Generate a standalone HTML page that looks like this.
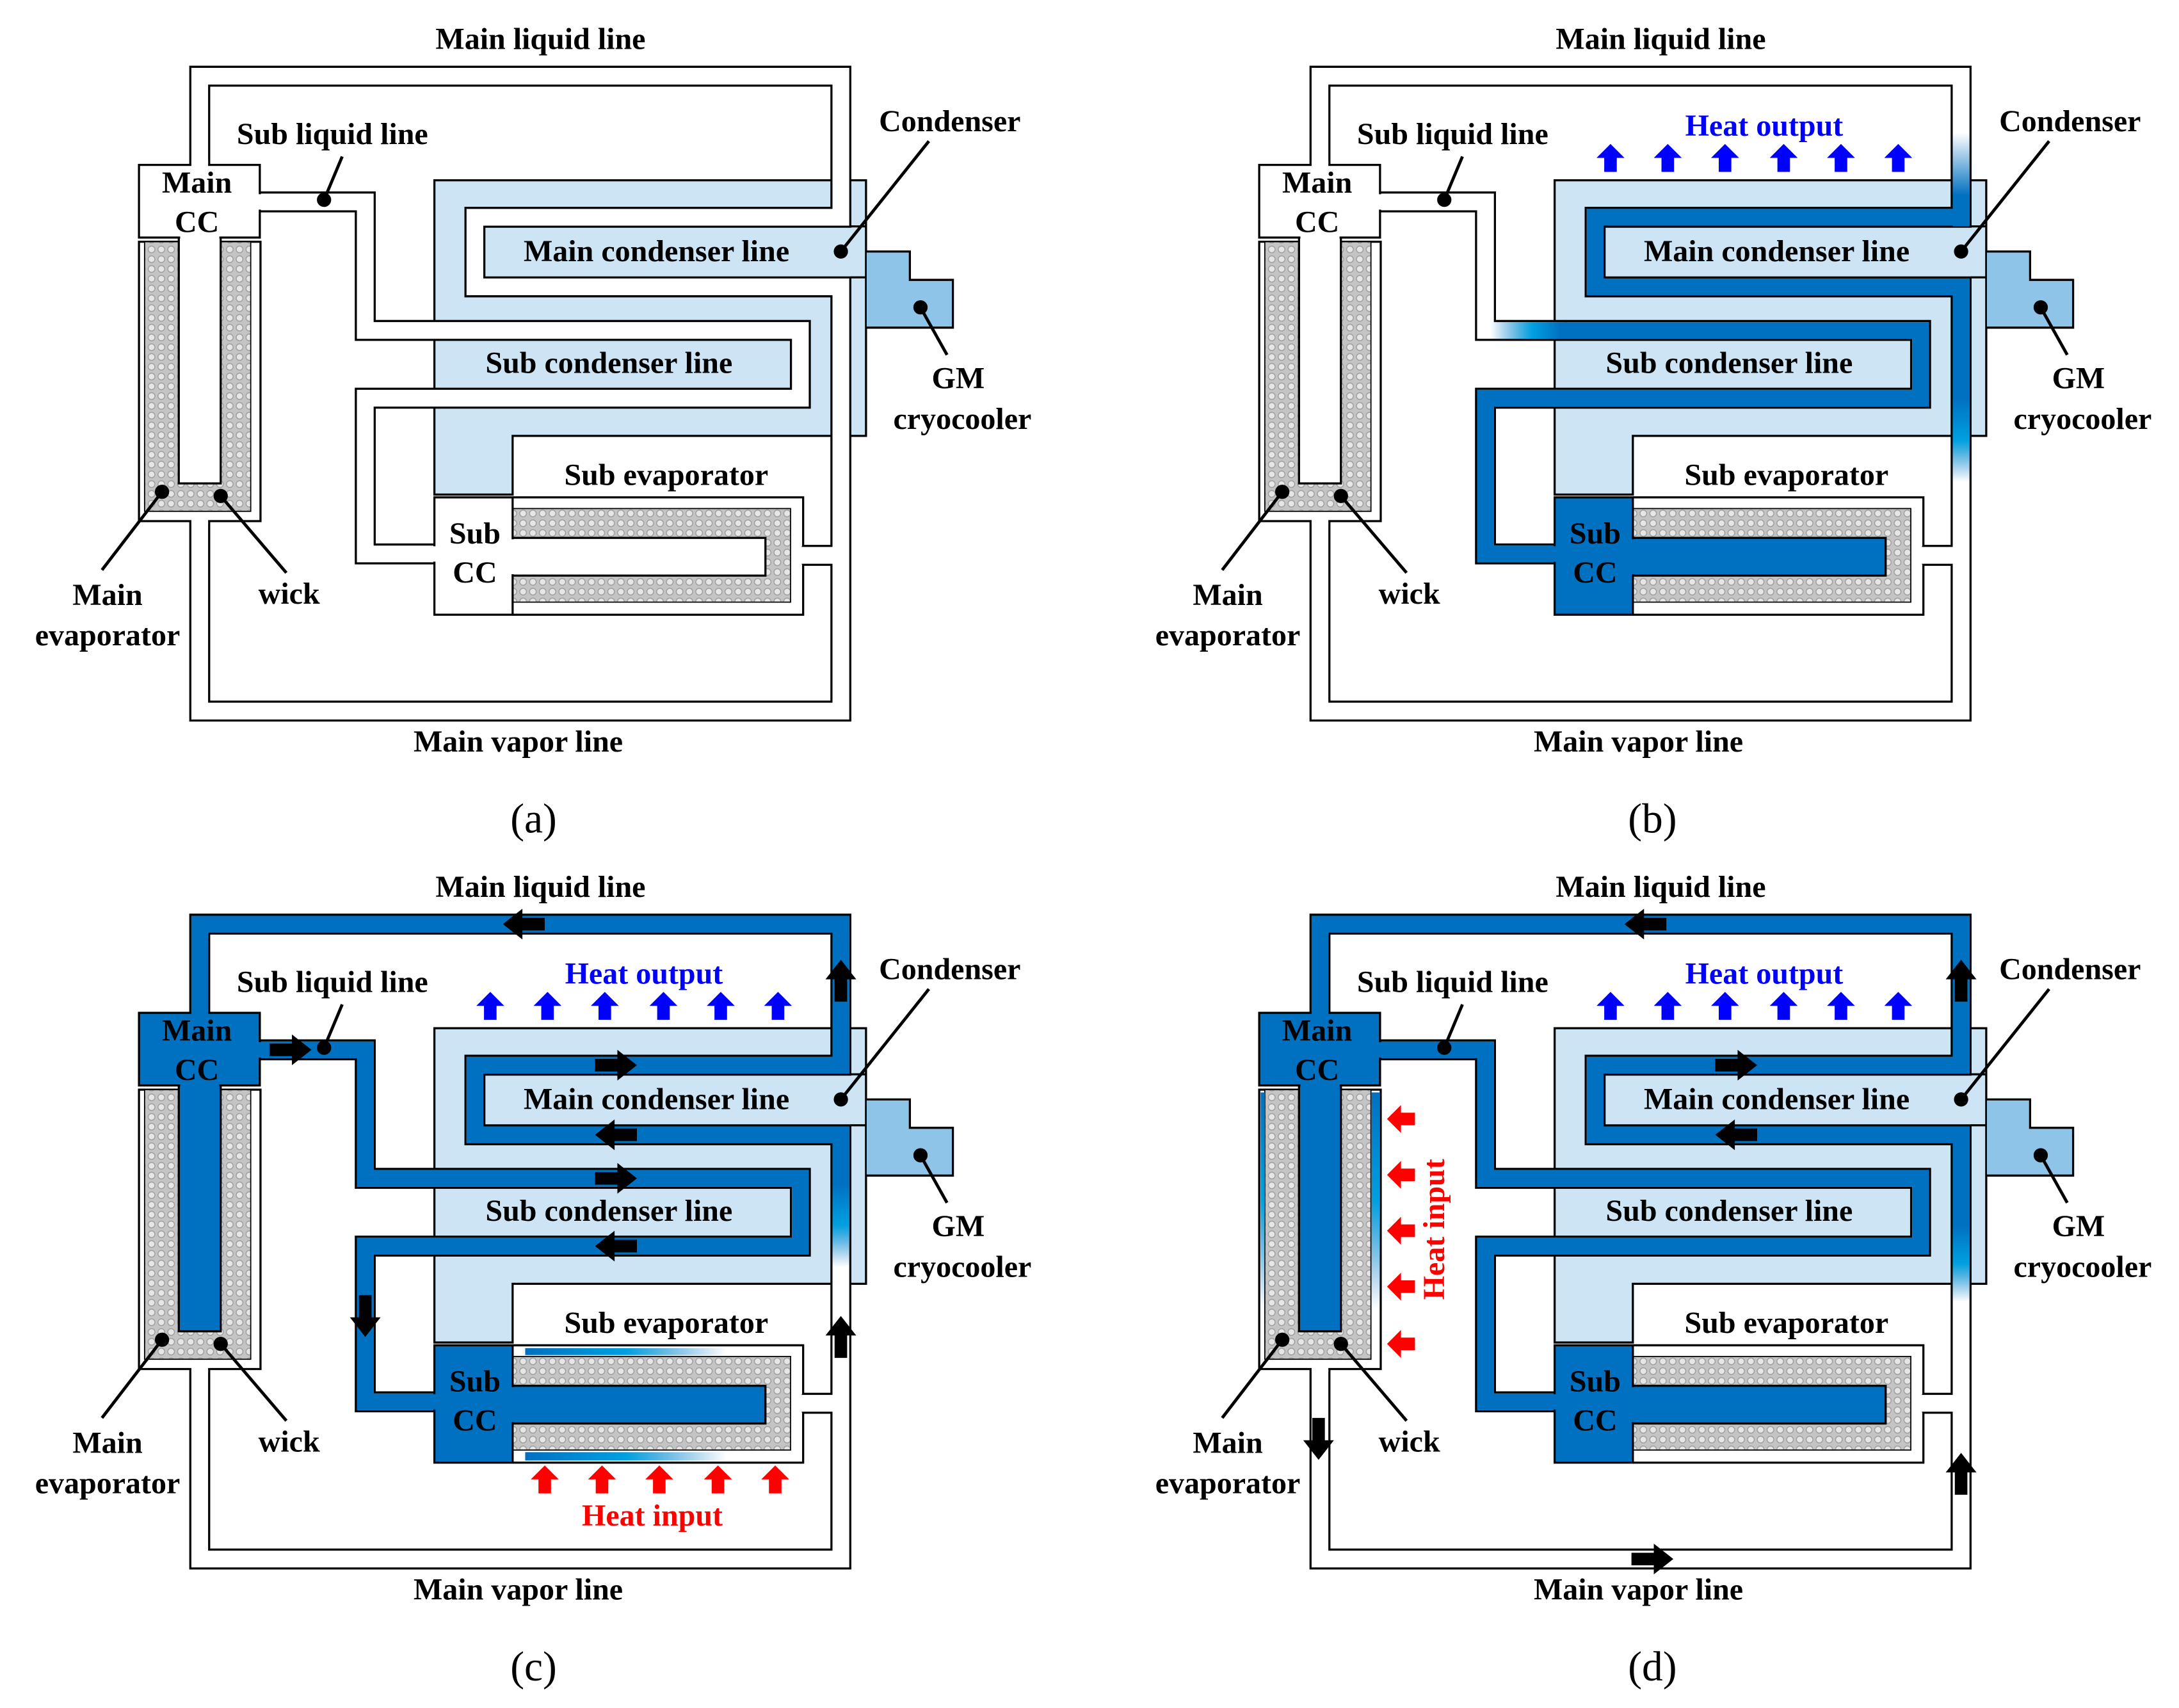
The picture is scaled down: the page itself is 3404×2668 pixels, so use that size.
<!DOCTYPE html>
<html><head><meta charset="utf-8"><style>html,body{margin:0;padding:0;background:#fff}svg{display:block}</style></head><body>
<svg width="3404" height="2668" viewBox="0 0 1560 1222.6" xmlns="http://www.w3.org/2000/svg">
<defs>
<pattern id="wk" width="7" height="7" patternUnits="userSpaceOnUse"><rect width="7" height="7" fill="#c4c4c4"/><circle cx="3.5" cy="3.5" r="2.4" fill="#e6e6e6" stroke="#9a9a9a" stroke-width="0.6"/></pattern>
<path id="arr" d="M-15,-4.5 H1 V-11 L15,0 L1,11 V4.5 H-15 Z" fill="#000"/>
<path id="up" d="M-4.5,10 V0 H-10 L0,-10 L10,0 H4.5 V10 Z"/>
<linearGradient id="gTopIn" gradientUnits="userSpaceOnUse" x1="0" y1="95" x2="0" y2="140"><stop offset="0" stop-color="#0070c0" stop-opacity="0"/><stop offset="1" stop-color="#0070c0"/></linearGradient>
<linearGradient id="gDownB" gradientUnits="userSpaceOnUse" x1="0" y1="285" x2="0" y2="345"><stop offset="0" stop-color="#0070c0"/><stop offset="0.5" stop-color="#00a0e0"/><stop offset="1" stop-color="#0070c0" stop-opacity="0"/></linearGradient>
<linearGradient id="gDownC" gradientUnits="userSpaceOnUse" x1="0" y1="240" x2="0" y2="300"><stop offset="0" stop-color="#0070c0"/><stop offset="0.5" stop-color="#00a0e0"/><stop offset="1" stop-color="#0070c0" stop-opacity="0"/></linearGradient>
<linearGradient id="gDownD" gradientUnits="userSpaceOnUse" x1="0" y1="270" x2="0" y2="325"><stop offset="0" stop-color="#0070c0"/><stop offset="0.5" stop-color="#00a0e0"/><stop offset="1" stop-color="#0070c0" stop-opacity="0"/></linearGradient>
<linearGradient id="gSubB" gradientUnits="userSpaceOnUse" x1="265" y1="0" x2="315" y2="0"><stop offset="0" stop-color="#0070c0" stop-opacity="0"/><stop offset="0.6" stop-color="#00a0e0"/><stop offset="1" stop-color="#0070c0"/></linearGradient>
<linearGradient id="gEvapC" gradientUnits="userSpaceOnUse" x1="376" y1="0" x2="520" y2="0"><stop offset="0" stop-color="#0070c0"/><stop offset="0.5" stop-color="#00a0e0"/><stop offset="1" stop-color="#0070c0" stop-opacity="0"/></linearGradient>
<linearGradient id="gEvapD" gradientUnits="userSpaceOnUse" x1="0" y1="175" x2="0" y2="330"><stop offset="0" stop-color="#0070c0"/><stop offset="0.5" stop-color="#00a0e0"/><stop offset="1" stop-color="#0070c0" stop-opacity="0"/></linearGradient>

<g id="base">
  <path d="M311,129 H620 V312 H367 V354 H311 Z" fill="#cde4f4" stroke="#000" stroke-width="1.5"/>
  <path d="M620.5,180 H651.4 V200.3 H682.2 V234.5 H620.5" fill="#8ec4e8" stroke="#000" stroke-width="1.5"/>
  <g fill="none" stroke="#000" stroke-width="15" stroke-linejoin="miter">
    <path d="M143,118 V54.5 H602 V155.5 H340 V205.3 H602 V509 H143 V373"/>
    <path d="M602,397.5 H574"/>
    <path d="M186,144.5 H261.5 V236.5 H573 V285 H261.5 V396.5 H311"/>
  </g>
  <g fill="none" stroke="#fff" stroke-width="12" stroke-linejoin="miter">
    <path d="M143,118 V54.5 H602 V155.5 H340 V205.3 H602 V509 H143 V373"/>
    <path d="M603,397.5 H574"/>
    <path d="M186,144.5 H261.5 V236.5 H573 V285 H261.5 V396.5 H311"/>
  </g>
  <path d="M609,162 H620 M609,198.5 H620" stroke="#000" stroke-width="1.5"/>
</g>
<g id="evap">
  <rect x="99.5" y="173" width="87" height="200" fill="#fff" stroke="#000" stroke-width="1.5"/>
  <rect x="103.5" y="173" width="76" height="193" fill="url(#wk)" stroke="#000" stroke-width="0.8"/>
  <path d="M367,356 H575 V391 M575,404 V440 H367" fill="#fff" stroke="#000" stroke-width="1.5"/>
  <rect x="367" y="364" width="199" height="67" fill="url(#wk)" stroke="#000" stroke-width="0.8"/>
  <rect x="137" y="371" width="12" height="4" fill="#fff"/>
</g>
<g id="lead" stroke="#000" stroke-width="2.2" fill="#000">
  <line x1="232" y1="143" x2="245" y2="112"/><circle cx="232" cy="143" r="4"/>
  <line x1="602" y1="180" x2="665" y2="101"/><circle cx="602" cy="180" r="4"/>
  <line x1="659" y1="220" x2="678" y2="254"/><circle cx="659" cy="220" r="4"/>
  <line x1="116" y1="352" x2="73" y2="408"/><circle cx="116" cy="352" r="4"/>
  <line x1="158" y1="355" x2="205" y2="410"/><circle cx="158" cy="355" r="4"/>
</g>
</defs>

<g font-family="'Liberation Serif',serif" font-weight="bold" font-size="22" text-anchor="middle" fill="#000">

<!-- (a) -->
<g>
  <use href="#base"/>
  <use href="#evap"/>
  <rect x="128" y="166" width="30" height="180" fill="#fff" stroke="#000" stroke-width="1.5"/>
  <rect x="99.5" y="118" width="86.5" height="52" fill="#fff" stroke="#000" stroke-width="1.5"/>
  <rect x="129" y="169" width="28" height="4" fill="#fff"/>
  <rect x="137" y="115" width="12" height="5" fill="#fff"/>
  <rect x="183" y="139" width="6" height="11" fill="#fff"/>
  <rect x="367" y="385" width="181" height="27" fill="#fff" stroke="#000" stroke-width="1.5"/>
  <rect x="311" y="356" width="56" height="84" fill="#fff" stroke="#000" stroke-width="1.5"/>
  <rect x="309" y="391" width="5" height="11" fill="#fff"/>
  <rect x="364" y="386" width="6" height="25" fill="#fff"/>
  <use href="#lead"/>
  <text x="387" y="35">Main liquid line</text>
  <text x="238" y="103">Sub liquid line</text>
  <text x="141" y="138">Main</text><text x="141" y="166">CC</text>
  <text x="680" y="94">Condenser</text>
  <text x="470" y="187">Main condenser line</text>
  <text x="436" y="267">Sub condenser line</text>
  <text x="686" y="278">GM</text><text x="689" y="307">cryocooler</text>
  <text x="477" y="347">Sub evaporator</text>
  <text x="340" y="389">Sub</text><text x="340" y="417">CC</text>
  <text x="77" y="433">Main</text><text x="77" y="462">evaporator</text>
  <text x="207" y="432">wick</text>
  <text x="371" y="538">Main vapor line</text>
  <text x="382" y="596" font-weight="normal" font-size="30">(a)</text>
</g>

<!-- (b) -->
<g transform="translate(802,0)">
  <use href="#base"/>
  <g fill="none" stroke-width="12">
    <path d="M602,90 V162" stroke="url(#gTopIn)"/>
    <path d="M602,155.5 H340 V205.3 H602 V286" stroke="#0070c0"/>
    <path d="M602,285 V345" stroke="url(#gDownB)"/>
    <path d="M255,236.5 H320" stroke="url(#gSubB)"/>
    <path d="M318,236.5 H573 V285 H261.5 V396.5 H313" stroke="#0070c0"/>
  </g>
  <use href="#evap"/>
  <rect x="128" y="166" width="30" height="180" fill="#fff" stroke="#000" stroke-width="1.5"/>
  <rect x="99.5" y="118" width="86.5" height="52" fill="#fff" stroke="#000" stroke-width="1.5"/>
  <rect x="129" y="169" width="28" height="4" fill="#fff"/>
  <rect x="137" y="115" width="12" height="5" fill="#fff"/>
  <rect x="183" y="139" width="6" height="11" fill="#fff"/>
  <rect x="367" y="385" width="181" height="27" fill="#0070c0" stroke="#000" stroke-width="1.5"/>
  <rect x="311" y="356" width="56" height="84" fill="#0070c0" stroke="#000" stroke-width="1.5"/>
  <rect x="309" y="391" width="5" height="11" fill="#0070c0"/>
  <rect x="364" y="386" width="6" height="25" fill="#0070c0"/>
  <use href="#lead"/>
  <g fill="#0000ff"><use href="#up" x="351" y="113"/><use href="#up" x="392" y="113"/><use href="#up" x="433" y="113"/><use href="#up" x="475" y="113"/><use href="#up" x="516" y="113"/><use href="#up" x="557" y="113"/></g>
  <text x="461" y="97" fill="#0000ff">Heat output</text>
  <text x="387" y="35">Main liquid line</text>
  <text x="238" y="103">Sub liquid line</text>
  <text x="141" y="138">Main</text><text x="141" y="166">CC</text>
  <text x="680" y="94">Condenser</text>
  <text x="470" y="187">Main condenser line</text>
  <text x="436" y="267">Sub condenser line</text>
  <text x="686" y="278">GM</text><text x="689" y="307">cryocooler</text>
  <text x="477" y="347">Sub evaporator</text>
  <text x="340" y="389">Sub</text><text x="340" y="417">CC</text>
  <text x="77" y="433">Main</text><text x="77" y="462">evaporator</text>
  <text x="207" y="432">wick</text>
  <text x="371" y="538">Main vapor line</text>
  <text x="381" y="596" font-weight="normal" font-size="30">(b)</text>
</g>

<!-- (c) -->
<g transform="translate(0,607)">
  <use href="#base"/>
  <g fill="none" stroke-width="12">
    <path d="M143,118 V54.5 H602 V155.5 H340 V205.3 H602 V241" stroke="#0070c0"/>
    <path d="M602,240 V300" stroke="url(#gDownC)"/>
    <path d="M186,144.5 H261.5 V236.5 H573 V285 H261.5 V396.5 H313" stroke="#0070c0"/>
  </g>
  <use href="#evap"/>
  <rect x="376" y="358" width="150" height="5" fill="url(#gEvapC)"/>
  <rect x="376" y="432.5" width="150" height="6" fill="url(#gEvapC)"/>
  <rect x="128" y="166" width="30" height="180" fill="#0070c0" stroke="#000" stroke-width="1.5"/>
  <rect x="99.5" y="118" width="86.5" height="52" fill="#0070c0" stroke="#000" stroke-width="1.5"/>
  <rect x="129" y="169" width="28" height="4" fill="#0070c0"/>
  <rect x="137" y="115" width="12" height="5" fill="#0070c0"/>
  <rect x="183" y="139" width="6" height="11" fill="#0070c0"/>
  <rect x="367" y="385" width="181" height="27" fill="#0070c0" stroke="#000" stroke-width="1.5"/>
  <rect x="311" y="356" width="56" height="84" fill="#0070c0" stroke="#000" stroke-width="1.5"/>
  <rect x="309" y="391" width="5" height="11" fill="#0070c0"/>
  <rect x="364" y="386" width="6" height="25" fill="#0070c0"/>
  <use href="#lead"/>
  <g fill="#0000ff"><use href="#up" x="351" y="113"/><use href="#up" x="392" y="113"/><use href="#up" x="433" y="113"/><use href="#up" x="475" y="113"/><use href="#up" x="516" y="113"/><use href="#up" x="557" y="113"/></g>
  <g fill="#ff0000"><use href="#up" x="390" y="452"/><use href="#up" x="431" y="452"/><use href="#up" x="472" y="452"/><use href="#up" x="514" y="452"/><use href="#up" x="555" y="452"/></g>
  <use href="#arr" transform="translate(375,54.5) rotate(180)"/>
  <use href="#arr" transform="translate(602,95) rotate(-90)"/>
  <use href="#arr" transform="translate(208,144.5)"/>
  <use href="#arr" transform="translate(441,155.5)"/>
  <use href="#arr" transform="translate(441,205.3) rotate(180)"/>
  <use href="#arr" transform="translate(441,236.5)"/>
  <use href="#arr" transform="translate(441,285) rotate(180)"/>
  <use href="#arr" transform="translate(261.5,335) rotate(90)"/>
  <use href="#arr" transform="translate(602,350) rotate(-90)"/>
  <text x="461" y="97" fill="#0000ff">Heat output</text>
  <text x="467" y="485" fill="#ff0000">Heat input</text>
  <text x="387" y="35">Main liquid line</text>
  <text x="238" y="103">Sub liquid line</text>
  <text x="141" y="138">Main</text><text x="141" y="166">CC</text>
  <text x="680" y="94">Condenser</text>
  <text x="470" y="187">Main condenser line</text>
  <text x="436" y="267">Sub condenser line</text>
  <text x="686" y="278">GM</text><text x="689" y="307">cryocooler</text>
  <text x="477" y="347">Sub evaporator</text>
  <text x="340" y="389">Sub</text><text x="340" y="417">CC</text>
  <text x="77" y="433">Main</text><text x="77" y="462">evaporator</text>
  <text x="207" y="432">wick</text>
  <text x="371" y="538">Main vapor line</text>
  <text x="382" y="596" font-weight="normal" font-size="30">(c)</text>
</g>

<!-- (d) -->
<g transform="translate(802,607)">
  <use href="#base"/>
  <g fill="none" stroke-width="12">
    <path d="M143,118 V54.5 H602 V155.5 H340 V205.3 H602 V271" stroke="#0070c0"/>
    <path d="M602,270 V325" stroke="url(#gDownD)"/>
    <path d="M186,144.5 H261.5 V236.5 H573 V285 H261.5 V396.5 H313" stroke="#0070c0"/>
  </g>
  <use href="#evap"/>
  <rect x="100.5" y="175" width="3" height="160" fill="url(#gEvapD)"/>
  <rect x="180" y="175" width="6" height="160" fill="url(#gEvapD)"/>
  <rect x="128" y="166" width="30" height="180" fill="#0070c0" stroke="#000" stroke-width="1.5"/>
  <rect x="99.5" y="118" width="86.5" height="52" fill="#0070c0" stroke="#000" stroke-width="1.5"/>
  <rect x="129" y="169" width="28" height="4" fill="#0070c0"/>
  <rect x="137" y="115" width="12" height="5" fill="#0070c0"/>
  <rect x="183" y="139" width="6" height="11" fill="#0070c0"/>
  <rect x="367" y="385" width="181" height="27" fill="#0070c0" stroke="#000" stroke-width="1.5"/>
  <rect x="311" y="356" width="56" height="84" fill="#0070c0" stroke="#000" stroke-width="1.5"/>
  <rect x="309" y="391" width="5" height="11" fill="#0070c0"/>
  <rect x="364" y="386" width="6" height="25" fill="#0070c0"/>
  <use href="#lead"/>
  <g fill="#0000ff"><use href="#up" x="351" y="113"/><use href="#up" x="392" y="113"/><use href="#up" x="433" y="113"/><use href="#up" x="475" y="113"/><use href="#up" x="516" y="113"/><use href="#up" x="557" y="113"/></g>
  <g fill="#ff0000">
    <use href="#up" transform="translate(201,194) rotate(-90)"/>
    <use href="#up" transform="translate(201,234) rotate(-90)"/>
    <use href="#up" transform="translate(201,274) rotate(-90)"/>
    <use href="#up" transform="translate(201,314) rotate(-90)"/>
    <use href="#up" transform="translate(201,355) rotate(-90)"/>
  </g>
  <use href="#arr" transform="translate(376,54.5) rotate(180)"/>
  <use href="#arr" transform="translate(602,95) rotate(-90)"/>
  <use href="#arr" transform="translate(441,155.5)"/>
  <use href="#arr" transform="translate(441,205.3) rotate(180)"/>
  <use href="#arr" transform="translate(142,423) rotate(90)"/>
  <use href="#arr" transform="translate(602,448) rotate(-90)"/>
  <use href="#arr" transform="translate(381,509)"/>
  <text x="461" y="97" fill="#0000ff">Heat output</text>
  <text transform="translate(232,273) rotate(-90)" fill="#ff0000">Heat input</text>
  <text x="387" y="35">Main liquid line</text>
  <text x="238" y="103">Sub liquid line</text>
  <text x="141" y="138">Main</text><text x="141" y="166">CC</text>
  <text x="680" y="94">Condenser</text>
  <text x="470" y="187">Main condenser line</text>
  <text x="436" y="267">Sub condenser line</text>
  <text x="686" y="278">GM</text><text x="689" y="307">cryocooler</text>
  <text x="477" y="347">Sub evaporator</text>
  <text x="340" y="389">Sub</text><text x="340" y="417">CC</text>
  <text x="77" y="433">Main</text><text x="77" y="462">evaporator</text>
  <text x="207" y="432">wick</text>
  <text x="371" y="538">Main vapor line</text>
  <text x="381" y="596" font-weight="normal" font-size="30">(d)</text>
</g>
</g>
</svg>
</body></html>
